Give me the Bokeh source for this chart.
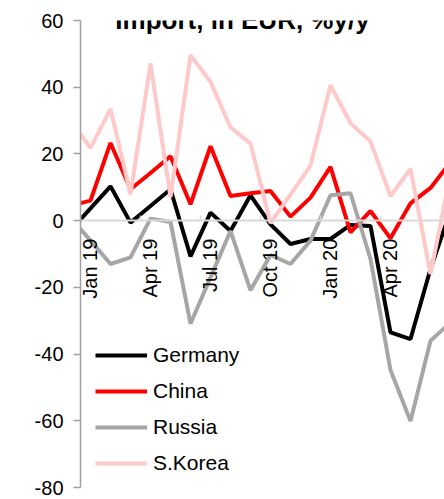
import math
from bokeh.plotting import figure
from bokeh.models import (Range1d, LinearAxis, FixedTicker, Label)
from bokeh.embed import file_html
from bokeh.resources import INLINE

# Months (Dec 18 is partly outside the visible area, as in the source)
months = ["Dec 18", "Jan 19", "Feb 19", "Mar 19", "Apr 19", "May 19", "Jun 19",
          "Jul 19", "Aug 19", "Sep 19", "Oct 19", "Nov 19", "Dec 19",
          "Jan 20", "Feb 20", "Mar 20", "Apr 20", "May 20", "Jun 20", "Jul 20"]

germany = [-3.0, 3.7, 10.3, -0.6, 4.4, 9.4, -10.7, 2.4, -3.1, 7.6, -1.1,
           -7.0, -5.5, -5.5, -1.3, -1.6, -33.5, -35.5, -14.5, 3.0]
china = [4.5, 6.0, 23.3, 9.4, 14.3, 19.3, 4.9, 22.3, 7.4, 8.2, 8.9,
         1.2, 6.9, 16.1, -3.5, 2.9, -5.3, 5.2, 9.8, 17.5]
russia = [0.9, -6.0, -13.0, -11.0, 0.6, -0.4, -30.9, -17.0, -3.1, -20.9, -10.3,
          -13.0, -6.0, 7.6, 8.2, -11.5, -44.8, -60.1, -36.0, -30.5]
skorea = [30.0, 21.8, 33.5, 7.9, 47.1, 7.0, 49.6, 41.6, 28.0, 23.1, -0.7,
          7.8, 16.5, 40.6, 29.2, 23.7, 7.4, 15.5, -16.0, 14.0]

y_ticks = [-80, -60, -40, -20, 0, 20, 40, 60]
y_tick_labels = ["-80", "-60", "-40", "-20", "0", "20", "40", "60"]
title_text = "Import, in EUR, %y/y"

x = list(range(-1, len(months) - 1))  # Jan 19 -> 0
label_ticks = [i for i in x if i >= 0 and i % 3 == 0]
label_over = {i: months[i + 1] for i in label_ticks}
boundary_ticks = [i - 0.5 for i in label_ticks] + [label_ticks[-1] + 2.5]

FONT = "Liberation Sans"

p = figure(width=444, height=499, output_backend="svg", toolbar_location=None,
           x_axis_location=None, y_axis_location="left",
           x_range=Range1d(-0.5, 17.7), y_range=Range1d(-80, 60),
           min_border_left=80, min_border_right=0, min_border_top=20,
           min_border_bottom=12)
p.outline_line_color = None
p.grid.visible = False
p.background_fill_color = "white"
p.border_fill_color = "white"

# y axis
ya = p.yaxis[0]
ya.ticker = FixedTicker(ticks=y_ticks)
ya.major_label_overrides = dict(zip(y_ticks, y_tick_labels))
ya.axis_line_color = "#a0a0a0"
ya.axis_line_width = 1.5
ya.major_tick_line_color = "#a0a0a0"
ya.major_tick_line_width = 1.5
ya.major_tick_out = 7
ya.major_tick_in = 0
ya.minor_tick_line_color = None
ya.major_label_text_font = FONT
ya.major_label_text_font_size = "20px"
ya.major_label_text_color = "black"
ya.major_label_standoff = 10

# zero line axis with boundary ticks
ax0 = LinearAxis(fixed_location=0, ticker=FixedTicker(ticks=boundary_ticks))
ax0.axis_line_color = "#d9d9d9"
ax0.axis_line_width = 2
ax0.major_tick_line_color = "#d9d9d9"
ax0.major_tick_line_width = 1.5
ax0.major_tick_in = 5
ax0.major_tick_out = 0
ax0.minor_tick_line_color = None
ax0.major_label_text_alpha = 0
ax0.major_label_text_font_size = "1px"
p.add_layout(ax0, "below")

# month labels axis
ax1 = LinearAxis(fixed_location=0, ticker=FixedTicker(ticks=label_ticks),
                 major_label_overrides=label_over)
ax1.axis_line_color = None
ax1.major_tick_line_color = None
ax1.minor_tick_line_color = None
ax1.major_label_orientation = math.pi / 2
ax1.major_label_standoff = 12
ax1.major_label_text_font = FONT
ax1.major_label_text_font_size = "20px"
ax1.major_label_text_color = "black"
p.add_layout(ax1, "below")

lw = 4
p.line(x, germany, color="#000000", line_width=lw, legend_label="Germany")
p.line(x, china, color="#ff0000", line_width=lw, legend_label="China")
p.line(x, russia, color="#a6a6a6", line_width=lw, legend_label="Russia")
p.line(x, skorea, color="#ffc9c9", line_width=lw, legend_label="S.Korea")

lg = p.legend[0]
lg.location = (15, 12)
lg.padding = 0
lg.margin = 0
lg.spacing = 12
lg.glyph_width = 52
lg.glyph_height = 24
lg.label_height = 24
lg.label_standoff = 6
lg.label_text_font = FONT
lg.label_text_font_size = "21px"
lg.label_text_color = "black"
lg.border_line_color = None
lg.background_fill_alpha = 0

title = Label(x=162, y=468, x_units="screen", y_units="screen", text=title_text,
              text_align="center", text_baseline="alphabetic",
              text_font=FONT, text_font_size="26px", text_font_style="bold",
              text_color="black")
p.add_layout(title)

open("out.html", "w").write(file_html(p, INLINE))
